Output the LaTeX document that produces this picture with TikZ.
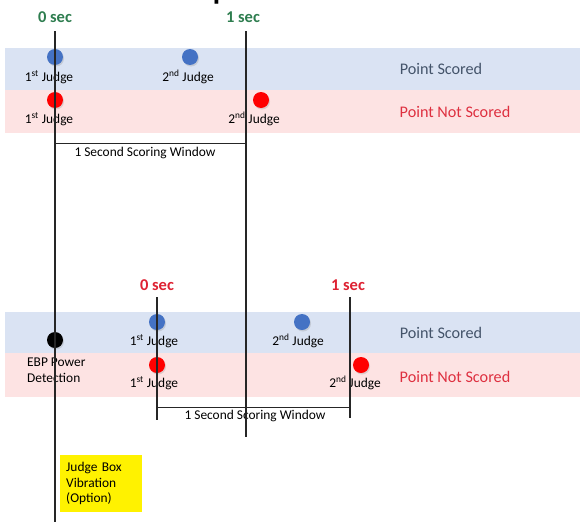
\documentclass[tikz,border=0pt]{standalone}
\usepackage{fontspec}
\setmainfont{Carlito}
\usetikzlibrary{shadows}
\definecolor{band-blue}{HTML}{DAE3F3}
\definecolor{band-pink}{HTML}{FDE3E3}
\definecolor{dot-blue}{HTML}{4472C4}
\definecolor{dot-red}{HTML}{FF0000}
\definecolor{sec-green}{HTML}{2E7D4F}
\definecolor{sec-red}{HTML}{DE2233}
\definecolor{scored-text}{HTML}{44546A}
\definecolor{notscored-text}{HTML}{DE3040}

\begin{document}
\begin{tikzpicture}[x=1pt, y=-1pt,
    every node/.style={font=\fontsize{13.4}{15.5}\selectfont, inner sep=0pt},
    dot/.style={circle, minimum size=16pt, inner sep=0pt,
      drop shadow={shadow xshift=1pt, shadow yshift=-1.5pt, opacity=0.25}},
    timeline/.style={line width=1.3pt, black!85},
    window/.style={line width=1pt, black!85},
    seclabel/.style={font=\fontsize{16.5}{18}\selectfont\bfseries},
    statelabel/.style={font=\fontsize{16.2}{18}\selectfont}]
  \useasboundingbox (0,0) rectangle (580,522);
  % cut-off title letter
  \node[anchor=base, font=\fontsize{30}{30}\selectfont\bfseries] (title) at (221,0) {p};

  % bands
  \fill[band-blue] (5,48) rectangle (580,90);
  \fill[band-pink] (5,90) rectangle (580,133);
  \fill[band-blue] (5,312) rectangle (580,353);
  \fill[band-pink] (5,353) rectangle (580,397);

  % ---- upper timeline ----
  \node[seclabel, sec-green] (zeroA) at (55,17) {0 sec};
  \node[seclabel, sec-green] (oneA) at (243,17) {1 sec};
  \node[statelabel, scored-text] (scoredA) at (441,69) {Point Scored};
  \node[statelabel, notscored-text] (notscoredA) at (455,112) {Point Not Scored};
  \node[dot, fill=dot-blue] (jA1) at (55,57) {};
  \node[dot, fill=dot-blue] (jA2) at (190,57) {};
  \node[dot, fill=dot-red] (jA3) at (55,100) {};
  \node[dot, fill=dot-red] (jA4) at (261,100) {};
  \node (jA1lab) at (49,77) {1\textsuperscript{st} Judge};
  \node (jA2lab) at (188,77) {2\textsuperscript{nd} Judge};
  \node (jA3lab) at (49,119) {1\textsuperscript{st} Judge};
  \node (jA4lab) at (254,119) {2\textsuperscript{nd} Judge};
  \coordinate (tA0top) at (55,31);
  \coordinate (tA0bot) at (55,522);
  \coordinate (tA1top) at (246,31);
  \coordinate (tA1bot) at (246,437);
  \coordinate (wA0) at (55,143);
  \coordinate (wA1) at (246,143);
  \node (windowA) at (145,153) {1 Second Scoring Window};

  % ---- lower timeline ----
  \node[seclabel, sec-red] (zeroB) at (157,285) {0 sec};
  \node[seclabel, sec-red] (oneB) at (348,285) {1 sec};
  \node[statelabel, scored-text] (scoredB) at (441,333) {Point Scored};
  \node[statelabel, notscored-text] (notscoredB) at (455,377) {Point Not Scored};
  \node[dot, fill=black] (ebp) at (55,340) {};
  \node[dot, fill=dot-blue] (jB1) at (157,322) {};
  \node[dot, fill=dot-blue] (jB2) at (302,322) {};
  \node[dot, fill=dot-red] (jB3) at (157,365) {};
  \node[dot, fill=dot-red] (jB4) at (361,365) {};
  \node[anchor=west, align=left] (ebplab) at (27,370) {EBP Power\\Detection};
  \node (jB1lab) at (154,341) {1\textsuperscript{st} Judge};
  \node (jB2lab) at (298,341) {2\textsuperscript{nd} Judge};
  \node (jB3lab) at (154,383) {1\textsuperscript{st} Judge};
  \node (jB4lab) at (355,383) {2\textsuperscript{nd} Judge};
  \coordinate (tB0top) at (157,297);
  \coordinate (tB0bot) at (157,420);
  \coordinate (tB1top) at (350,297);
  \coordinate (tB1bot) at (350,418);
  \coordinate (wB0) at (157,407);
  \coordinate (wB1) at (350,407);
  \node (windowB) at (255,416) {1 Second Scoring Window};

  % vibration box
  \node[anchor=north west, fill=yellow, minimum width=82pt, minimum height=57pt,
    text width=70pt, inner xsep=6pt, align=left] (vibration) at (60,455)
    {Judge Box\\Vibration\\(Option)};

  % lines on top
  \draw[window] (wA0) -- (wA1);
  \draw[window] (wB0) -- (wB1);
  \draw[timeline] (tA0top) -- (tA0bot);
  \draw[timeline] (tA1top) -- (tA1bot);
  \draw[timeline] (tB0top) -- (tB0bot);
  \draw[timeline] (tB1top) -- (tB1bot);
\end{tikzpicture}
\end{document}
